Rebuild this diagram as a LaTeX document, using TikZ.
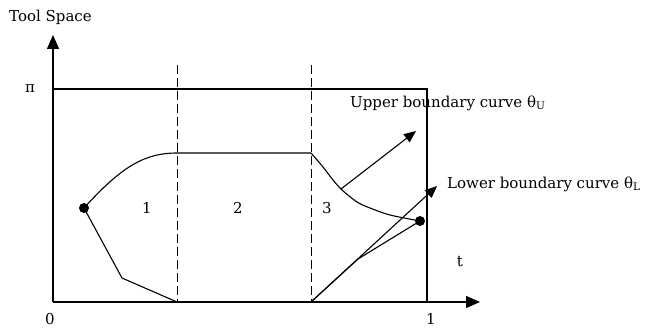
\documentclass[tikz,border=0pt]{standalone}
\usepackage{fontspec}
\setmainfont{DejaVu Serif}
\usetikzlibrary{arrows.meta}

\begin{document}
\begin{tikzpicture}[
  x=1pt, y=-1pt,
  arrow/.style={-{Triangle[length=12pt, width=10pt]}, line width=1.1pt},
  ax/.style={-{Triangle[length=14pt, width=12pt]}, line width=1.4pt},
  curve/.style={line width=1.1pt},
  divider/.style={dashed, dash pattern=on 9pt off 4pt, line width=1pt},
  lbl/.style={font=\fontsize{15}{17}\selectfont, inner sep=1pt},
  dot/.style={circle, fill, inner sep=0pt, minimum size=10pt},
]
\useasboundingbox (0,0) rectangle (650,328);

% === LABELS (under the frame) ===
\node[lbl, anchor=west] (upper) at (349,103) {Upper boundary curve θ\textsubscript{U}};
\node[lbl, anchor=west] (lower) at (446,184) {Lower boundary curve θ\textsubscript{L}};

% === AXES AND FRAME ===
\coordinate (origin) at (53,302);
\coordinate (ytip) at (53,35);
\coordinate (xtip) at (480,302);
\draw[ax] (origin) -- (ytip);
\draw[ax] (origin) -- (xtip);
\draw[line width=1.2pt] (53,89) -- (427,89) -- (427,302);

\node[lbl, anchor=west] (yname) at (8,17) {Tool Space};
\node[lbl] (pi) at (30,89) {π};
\node[lbl] (zero) at (50,319) {0};
\node[lbl] (one) at (431,319) {1};
\node[lbl] (tname) at (460,262) {t};

% === REGIONS ===
\draw[divider] (177,65) -- (177,302);
\draw[divider] (311,65) -- (311,302);
\node[lbl] (r1) at (147,208) {1};
\node[lbl] (r2) at (238,208) {2};
\node[lbl] (r3) at (327,208) {3};

% === BOUNDARY CURVES ===
\node[dot] (start) at (84,208) {};
\node[dot] (goal) at (420,221) {};

% upper curve
\draw[curve] (start.center) .. controls (122,166) and (145,153) .. (177,153) -- (311,153);
\draw[curve] plot[smooth, tension=0.5] coordinates {(311,153)(323,167)(333,180)(342,190)(357,202)(370,208)(390,215)(420,221)};
% lower curve
\draw[curve] (start.center) -- (122,278) -- (177,302);
\coordinate (kink) at (358,259);
\draw[curve] (311,302) -- (kink) -- (goal.center);

% arrows to the labels
\coordinate (upfoot) at (341,189);
\coordinate (uptip) at (416,131);
\coordinate (lowtip) at (437,186);
\draw[arrow] (upfoot) -- (uptip);
\draw[arrow] (311,302) -- (lowtip);
\end{tikzpicture}
\end{document}
